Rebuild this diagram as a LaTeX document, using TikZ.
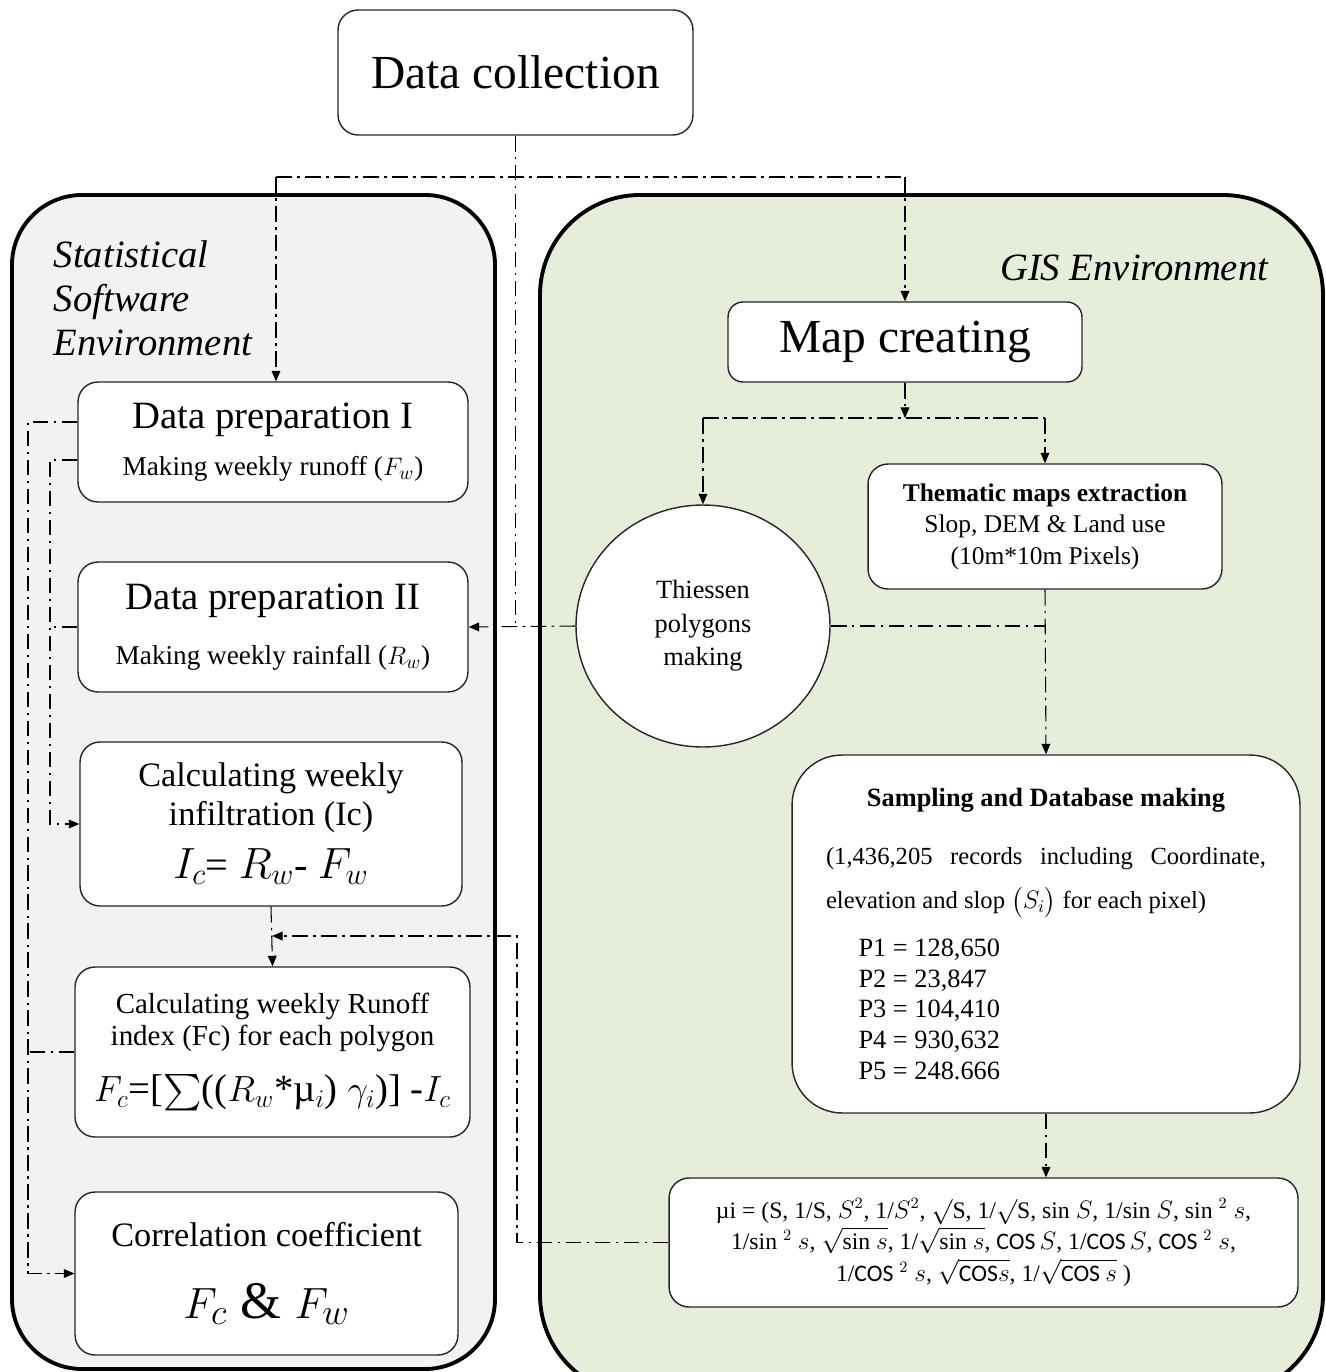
\documentclass[tikz,border=0pt]{standalone}
\usepackage{amsmath}
\usepackage{fontspec}
\setmainfont{Liberation Serif}
\newfontfamily\calibri{Carlito}
\usepackage{tikz}
\usetikzlibrary{arrows.meta}
\usetikzlibrary{shapes.geometric}
\usetikzlibrary{positioning}
\usetikzlibrary{calc}

\definecolor{statgray}{HTML}{F2F2F2}
\definecolor{gisgreen}{HTML}{E6EED9}

\newcommand{\fsz}[2]{\fontsize{#1}{#2}\selectfont}

\begin{document}
\begin{tikzpicture}[x=0.02cm,y=-0.02cm,
    every node/.style={inner sep=2pt},
    panel/.style={draw=black,line width=2.2pt},
    box/.style={draw=black!85,line width=0.8pt,fill=white,rounded corners=0.4cm,align=center},
    flow/.style={line width=0.6pt,dash pattern=on 9pt off 3pt on 1.5pt off 3pt},
    arr/.style={flow,-{Triangle[length=6pt,width=5pt]}}]
      \useasboundingbox (0,0) rectangle (1325,1372);
      \clip (0,0) rectangle (1325,1372);

      \draw[panel,fill=statgray,rounded corners=1.4cm] (12,195) rectangle (495,1369);
      \draw[panel,fill=gisgreen,rounded corners=2cm] (540,195) rectangle (1323,1395);

      \node[anchor=north west,align=left,font=\itshape\fsz{22}{25}] (statlbl) at (50,237) {Statistical\\Software\\Environment};
      \node[anchor=east,font=\itshape\fsz{22}{25}] (gislbl) at (1272,268) {GIS Environment};

      \node[box,minimum width=7.1cm,minimum height=2.5cm,font=\fsz{27}{30}] (datacol) at (515.5,72.5) {Data collection};
      \node[box,minimum width=7.08cm,minimum height=1.6cm,rounded corners=0.3cm,font=\fsz{27}{30}] (mapcre) at (905,342) {Map creating};

      \node[box,minimum width=7.8cm,minimum height=2.4cm] (prepA) at (273,442)
        {\fsz{22}{26}Data preparation I\\[10pt]\fsz{15.5}{18}Making weekly runoff ($F_w$)};
      \node[box,minimum width=7.8cm,minimum height=2.6cm] (prepB) at (273,627)
        {\fsz{22}{26}Data preparation II\\[15pt]\fsz{15.5}{18}Making weekly rainfall ($R_w$)};
      \node[box,minimum width=7.64cm,minimum height=3.28cm] (infil) at (271,824)
        {\fsz{19.5}{23}Calculating weekly\\[3pt]\fsz{19.5}{23}infiltration (Ic)\\[8pt]\fsz{23}{26}$I_c$= $R_w$- $F_w$};
      \node[box,minimum width=7.9cm,minimum height=3.4cm] (runoff) at (272.5,1052)
        {\fsz{16.5}{20.5}Calculating weekly Runoff\\[2pt]\fsz{16.5}{20.5}index (Fc) for each polygon\\[12pt]\fsz{22}{26}$F_c$=[$\sum$(($R_w$*\textmu$_i$) $\gamma_i$)] -$I_c$};
      \node[box,minimum width=7.66cm,minimum height=3.26cm] (corr) at (266.5,1273.5)
        {\fsz{19.5}{23}Correlation coefficient\\[20pt]\fsz{30}{34}$F_c$ \& $F_w$};

      \node[ellipse,draw=black!85,line width=0.8pt,fill=white,minimum width=5.08cm,minimum height=4.84cm,align=center,font=\fsz{15}{19}] (thiessen) at (703,626) {Thiessen\\polygons\\making};
      \node[box,minimum width=7.08cm,minimum height=2.5cm,font=\fsz{14.5}{18}] (thematic) at (1045,526.5)
        {\textbf{Thematic maps extraction}\\Slop, DEM \& Land use\\(10m*10m Pixels)};
      \node[box,minimum width=10.16cm,minimum height=7.16cm,rounded corners=1cm,text width=8.8cm,align=justify,font=\fsz{14}{25}] (sampling) at (1046,934)
        {{\centering\bfseries\fsz{15}{18}Sampling and Database making\par}\vspace{8pt}
         (1,436,205 records including Coordinate,\linebreak elevation and slop $\big(S_i\big)$ for each pixel)\par\vspace{10pt}
         {\leftskip=0.65cm\fsz{15}{17.4}P1 = 128,650\par P2 = 23,847\par P3 = 104,410\par P4 = 930,632\par P5 = 248.666\par}};
      \node[box,minimum width=12.58cm,minimum height=2.58cm,font=\fsz{13.5}{18}] (muidx) at (983.5,1242.5)
        {\textmu i = (S, 1/S, $S^2$, 1/$S^2$, $\surd$S, 1/$\surd$S, sin $S$, 1/sin $S$, sin $^2$ $s$,\\
         1/sin $^2$ $s$, $\sqrt{\text{sin }s}$, 1/$\sqrt{\text{sin }s}$, {\calibri COS}$\,S$, 1/{\calibri COS}$\,S$, {\calibri COS} $^2$ $s$,\\
         1/{\calibri COS} $^2$ $s$, $\sqrt{\text{\calibri COS}s}$, 1/$\sqrt{\text{\calibri COS }s}$ )};

      \coordinate (jTopL) at (276,177);
      \coordinate (jTopR) at (905,177);
      \coordinate (jMap) at (905,418);
      \coordinate (jMu) at (517,936);
      \coordinate (jRun) at (272,936);
      \coordinate (lA) at (28,422);
      \coordinate (lB) at (50,460);

      \draw[flow] (datacol.south) -- (datacol.south |- prepB.east);
      \draw[flow] (jTopL) -- (jTopR);
      \draw[arr] (jTopL) -- (jTopL |- prepA.north);
      \draw[arr] (jTopR) -- (mapcre.north);
      \draw[arr] (mapcre.south) -- (jMap);
      \draw[flow] (jMap -| thiessen.north) -- (jMap -| thematic.north);
      \draw[arr] (jMap -| thiessen.north) -- (thiessen.north);
      \draw[arr] (jMap -| thematic.north) -- (thematic.north);
      \draw[arr] (thematic.south) -- (sampling.north);
      \draw[flow] (thiessen.east) -- (thiessen.east -| thematic.south);
      \draw[arr] (thiessen.west) -- (prepB.east);
      \draw[arr] (sampling.south) -- (sampling.south |- muidx.north);
      \draw[arr] (muidx.west) -| (jMu) -- (jRun);
      \draw[arr] (infil.south) -- (runoff.north);

      \draw[arr] (prepA.west |- lA) -- (lA) |- (corr.west);
      \draw[flow] (runoff.west) -- (runoff.west -| lA);
      \draw[arr] (prepA.west |- lB) -- (lB) |- (infil.west);
      \draw[flow] (prepB.west) -- (prepB.west -| lB);

    \end{tikzpicture}
\end{document}
